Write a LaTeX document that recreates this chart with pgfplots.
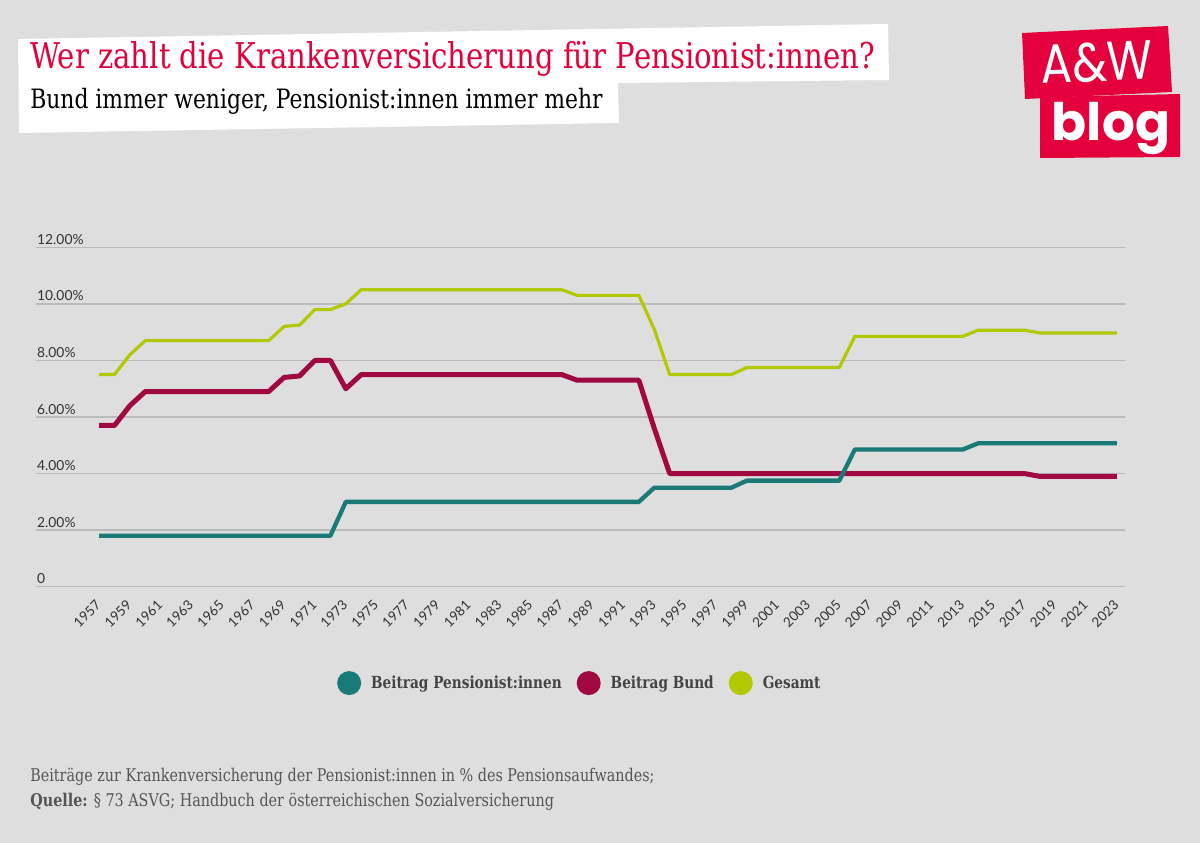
\documentclass[border=0pt]{standalone}
\usepackage{fontspec}
\usepackage{pgfplots}
\pgfplotsset{compat=1.18}
\setmainfont{Lato}
\newfontfamily\slab[FakeStretch=0.82]{DejaVu Serif}
\newfontfamily\logofont{Poppins}
\definecolor{bg}{RGB}{222,222,222}
\definecolor{titlered}{RGB}{226,0,58}
\definecolor{logored}{RGB}{228,0,60}
\definecolor{cteal}{RGB}{26,122,120}
\definecolor{cbund}{RGB}{160,8,64}
\definecolor{cgesamt}{RGB}{178,200,0}
\definecolor{gridgray}{RGB}{187,187,187}
\definecolor{labelgray}{RGB}{51,51,51}
\definecolor{legendgray}{RGB}{68,68,68}
\definecolor{footgray}{RGB}{85,85,85}

\pgfplotstableread{
year val
1957 1.8
1972 1.8
1973 3.0
1992 3.0
1993 3.5
1998 3.5
1999 3.75
2005 3.75
2006 4.85
2013 4.85
2014 5.07
2023 5.07
}\pens

\pgfplotstableread{
year val
1957 5.7
1958 5.7
1959 6.4
1960 6.9
1968 6.9
1969 7.4
1970 7.45
1971 8.0
1972 8.0
1973 7.0
1974 7.5
1987 7.5
1988 7.3
1992 7.3
1993 5.6
1994 4.0
2017 4.0
2018 3.9
2023 3.9
}\bund

\pgfplotstableread{
year val
1957 7.5
1958 7.5
1959 8.2
1960 8.7
1968 8.7
1969 9.2
1970 9.25
1971 9.8
1972 9.8
1973 10.0
1974 10.5
1987 10.5
1988 10.3
1992 10.3
1993 9.1
1994 7.5
1998 7.5
1999 7.75
2005 7.75
2006 8.85
2013 8.85
2014 9.07
2017 9.07
2018 8.97
2023 8.97
}\gesamt

\begin{document}
\begin{tikzpicture}
\useasboundingbox (0,0) rectangle (720pt,505.8pt);
\fill[bg] (0,0) rectangle (720pt,505.8pt);
\begin{scope}[x=0.6pt,y=-0.6pt,shift={(0pt,505.8pt)}]
  % title boxes
  \fill[white] (18,39) -- (888,24) -- (889,80) -- (618,83) -- (619,123) -- (19,133) -- cycle;
  \node[anchor=base west, inner sep=0, text=titlered, font=\slab\fontsize{21.3}{25}\selectfont] at (30,69) {Wer zahlt die Krankenversicherung für Pensionist:innen?};
  \node[anchor=base west, inner sep=0, text=black, font=\slab\fontsize{16}{19}\selectfont] at (30,109) {Bund immer weniger, Pensionist:innen immer mehr};
  % logo
  \fill[logored] (1022,33) -- (1168,26) -- (1172,92) -- (1025,99) -- cycle;
  \fill[logored] (1040,97) -- (1180,94) -- (1180,157) -- (1040,158) -- cycle;
  \node[text=white, inner sep=0, rotate=2, font=\logofont\fontsize{33}{36}\selectfont] at (1097,62) {\scalebox{0.85}[1]{A\&W}};
  \node[text=white, inner sep=0, font=\logofont\bfseries\fontsize{31}{34}\selectfont] at (1111,128) {blog};
  % footer
  \node[anchor=base west, inner sep=0, text=footgray, font=\slab\fontsize{10.5}{12}\selectfont] at (30,781) {Beiträge zur Krankenversicherung der Pensionist:innen in \% des Pensionsaufwandes;};
  \node[anchor=base west, inner sep=0, text=footgray, font=\slab\fontsize{10.5}{12}\selectfont] at (30,806) {\textbf{Quelle:} § 73 ASVG; Handbuch der österreichischen Sozialversicherung};
\end{scope}
\begin{axis}[
  at={(21.6pt,153.78pt)}, anchor=south west,
  scale only axis, width=653.4pt, height=203.64pt,
  xmin=1952.915, xmax=2023.52, ymin=0, ymax=12,
  axis line style={draw=none}, major tick length=0pt,
  ytick={0,2,4,6,8,10,12},
  yticklabels={0,2.00\%,4.00\%,6.00\%,8.00\%,10.00\%,12.00\%},
  yticklabel style={anchor=south west, font=\fontsize{8.3}{10}\selectfont, text=labelgray, inner xsep=0.5pt, inner ysep=1.5pt},
  ymajorgrids, grid style={gridgray, line width=0.9pt},
  xtick={1957,1959,...,2023},
  xticklabel style={/pgf/number format/1000 sep=, /pgf/number format/assume math mode=true, font=\fontsize{8.1}{9}\selectfont, text=labelgray, xshift=2pt, yshift=-7pt, rotate=45, anchor=east},
  legend style={at={(0.5,-0.284)}, anchor=center, draw=none, fill=none, legend columns=3,
    font=\slab\bfseries\fontsize{10}{12}\selectfont, text=legendgray,
    /tikz/every odd column/.append style={column sep=4pt},
    /tikz/every even column/.append style={column sep=7pt}},
  legend image code/.code={\fill[draw=none] (7.2pt,0pt) circle (7.2pt);},
  reverse legend,
  clip=false,
]
\addplot[cgesamt, line width=1.9pt, line join=round] table[x=year,y=val] {\gesamt};
\addlegendentry{Gesamt}
\addplot[cbund, line width=3pt, line join=round] table[x=year,y=val] {\bund};
\addlegendentry{Beitrag Bund}
\addplot[cteal, line width=2.6pt, line join=round] table[x=year,y=val] {\pens};
\addlegendentry{Beitrag Pensionist:innen}
\end{axis}
\end{tikzpicture}
\end{document}
